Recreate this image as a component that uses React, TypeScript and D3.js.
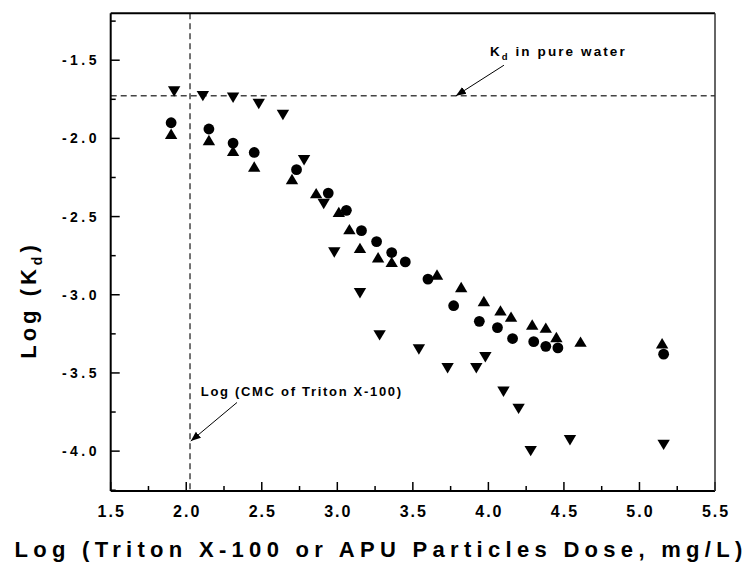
import React from "react";
import * as d3 from "d3";

// ---- data ----
const circleX = [1.90, 2.15, 2.31, 2.45, 2.73, 2.94, 3.06, 3.16, 3.26, 3.36, 3.45, 3.60, 3.77, 3.94, 4.06, 4.16, 4.30, 4.38, 4.46, 5.16];
const circleY = [-1.90, -1.94, -2.03, -2.09, -2.20, -2.35, -2.46, -2.59, -2.66, -2.73, -2.79, -2.90, -3.07, -3.17, -3.21, -3.28, -3.30, -3.33, -3.34, -3.38];

const upX = [1.90, 2.15, 2.31, 2.45, 2.70, 2.86, 3.01, 3.08, 3.15, 3.27, 3.36, 3.66, 3.82, 3.97, 4.08, 4.15, 4.29, 4.38, 4.45, 4.61, 5.15];
const upY = [-1.97, -2.01, -2.08, -2.18, -2.26, -2.35, -2.47, -2.58, -2.70, -2.76, -2.79, -2.87, -2.95, -3.04, -3.10, -3.14, -3.19, -3.21, -3.27, -3.30, -3.31];

const downX = [1.92, 2.11, 2.31, 2.48, 2.64, 2.78, 2.91, 2.98, 3.15, 3.28, 3.54, 3.73, 3.92, 3.98, 4.10, 4.20, 4.28, 4.54, 5.16];
const downY = [-1.70, -1.73, -1.74, -1.78, -1.85, -2.14, -2.42, -2.73, -2.99, -3.26, -3.35, -3.47, -3.47, -3.40, -3.62, -3.73, -4.00, -3.93, -3.96];

const xTicks = [1.5, 2.0, 2.5, 3.0, 3.5, 4.0, 4.5, 5.0, 5.5];
const xMinorTicks = [1.75, 2.25, 2.75, 3.25, 3.75, 4.25, 4.75, 5.25];
const yTicks = [-1.5, -2.0, -2.5, -3.0, -3.5, -4.0];
const yMinorTicks = [-1.25, -1.75, -2.25, -2.75, -3.25, -3.75, -4.25];

const kdPureWater = -1.728;
const logCMC = 2.025;

const xTitle = "Log (Triton X-100 or APU Particles Dose, mg/L)";
const cmcLabel = "Log (CMC of Triton X-100)";

const W = 749, H = 567;
const L = 110.7, R = 715, T = 13.3, B = 491;
const FONT = "'Liberation Sans', Arial, Helvetica, sans-serif";

export default function App() {
  const x = d3.scaleLinear().domain([1.5, 5.5]).range([L, R]);
  const y = d3.scaleLinear().domain([-4.255, -1.2]).range([B, T]);

  const tri = (cx: number, cy: number, up: boolean) => {
    const w = 6.2, h = 5.2;
    const p = d3.path();
    if (up) {
      p.moveTo(cx, cy - h); p.lineTo(cx + w, cy + h); p.lineTo(cx - w, cy + h);
    } else {
      p.moveTo(cx, cy + h); p.lineTo(cx + w, cy - h); p.lineTo(cx - w, cy - h);
    }
    p.closePath();
    return p.toString();
  };

  const kdArrowStart = [x(4.103), y(-1.532)];
  const kdArrowEnd = [x(3.785), y(kdPureWater)];
  const cmcArrowStart = [x(2.336), y(-3.689)];
  const cmcArrowEnd = [x(2.03), y(-3.936)];

  return (
    <svg width={W} height={H} style={{ position: "absolute", left: 0, top: 0, background: "#fff" }}>
      <defs>
        <marker id="ah" viewBox="0 0 10 10" refX="10" refY="5" markerWidth="10" markerHeight="10" orient="auto" markerUnits="userSpaceOnUse">
          <path d="M0,1 L10,5 L0,9 z" fill="#000" />
        </marker>
      </defs>
      <rect x={0} y={0} width={W} height={H} fill="#fff" />

      {/* reference dashed lines */}
      <line x1={L} x2={R} y1={y(kdPureWater)} y2={y(kdPureWater)} stroke="#444" strokeWidth={1.5} strokeDasharray="6,4" />
      <line x1={x(logCMC)} x2={x(logCMC)} y1={T} y2={B} stroke="#444" strokeWidth={1.5} strokeDasharray="6,4" />

      {/* ticks */}
      {xTicks.map((t) => (
        <line key={"xt" + t} x1={x(t)} x2={x(t)} y1={B} y2={B - 9} stroke="#000" strokeWidth={1.5} />
      ))}
      {xMinorTicks.map((t) => (
        <line key={"xm" + t} x1={x(t)} x2={x(t)} y1={B} y2={B - 5} stroke="#000" strokeWidth={1.5} />
      ))}
      {yTicks.map((t) => (
        <line key={"yt" + t} x1={L} x2={L + 9} y1={y(t)} y2={y(t)} stroke="#000" strokeWidth={1.5} />
      ))}
      {yMinorTicks.map((t) => (
        <line key={"ym" + t} x1={L} x2={L + 5} y1={y(t)} y2={y(t)} stroke="#000" strokeWidth={1.5} />
      ))}

      {/* frame */}
      <line x1={L} x2={R} y1={T} y2={T} stroke="#000" strokeWidth={2} />
      <line x1={L} x2={R} y1={B} y2={B} stroke="#000" strokeWidth={2} />
      <line x1={L} x2={L} y1={T} y2={B} stroke="#000" strokeWidth={2} />
      <line x1={R} x2={R} y1={T} y2={B} stroke="#333" strokeWidth={1.5} />

      {/* tick labels */}
      {xTicks.map((t) => (
        <text key={"xl" + t} x={x(t) + 1} y={517} textAnchor="middle" fontFamily={FONT} fontWeight="bold" fontSize={16} letterSpacing={2} fill="#000">
          {t.toFixed(1)}
        </text>
      ))}
      {yTicks.map((t) => (
        <text key={"yl" + t} x={100} y={y(t) + 5} textAnchor="end" fontFamily={FONT} fontWeight="bold" fontSize={14} letterSpacing={3.5} fill="#000">
          {t.toFixed(1)}
        </text>
      ))}

      {/* axis titles */}
      <text x={381} y={557} textAnchor="middle" fontFamily={FONT} fontWeight="bold" fontSize={22} letterSpacing={5.3} fill="#000">
        {xTitle}
      </text>
      <text transform={`translate(36,${300}) rotate(-90)`} textAnchor="middle" fontFamily={FONT} fontWeight="bold" fontSize={22} letterSpacing={4} fill="#000">
        Log (K<tspan fontSize={14} dy={6}>d</tspan><tspan dy={-6}>)</tspan>
      </text>

      {/* markers */}
      {circleX.map((v, i) => (
        <circle key={"c" + i} cx={x(v)} cy={y(circleY[i])} r={5.4} fill="#000" />
      ))}
      {upX.map((v, i) => (
        <path key={"u" + i} d={tri(x(v), y(upY[i]), true)} fill="#000" />
      ))}
      {downX.map((v, i) => (
        <path key={"d" + i} d={tri(x(v), y(downY[i]), false)} fill="#000" />
      ))}

      {/* annotations */}
      <line x1={kdArrowStart[0]} y1={kdArrowStart[1]} x2={kdArrowEnd[0]} y2={kdArrowEnd[1]} stroke="#000" strokeWidth={1} markerEnd="url(#ah)" />
      <text x={x(4.01)} y={y(-1.474)} fontFamily={FONT} fontWeight="bold" fontSize={13.5} letterSpacing={2.1} fill="#000">
        K<tspan fontSize={9.5} dy={4}>d</tspan><tspan dy={-4}> in pure water</tspan>
      </text>
      <line x1={cmcArrowStart[0]} y1={cmcArrowStart[1]} x2={cmcArrowEnd[0]} y2={cmcArrowEnd[1]} stroke="#000" strokeWidth={1} markerEnd="url(#ah)" />
      <text x={x(2.096)} y={y(-3.649)} fontFamily={FONT} fontWeight="bold" fontSize={13} letterSpacing={1.7} fill="#000">
        {cmcLabel}
      </text>
    </svg>
  );
}
